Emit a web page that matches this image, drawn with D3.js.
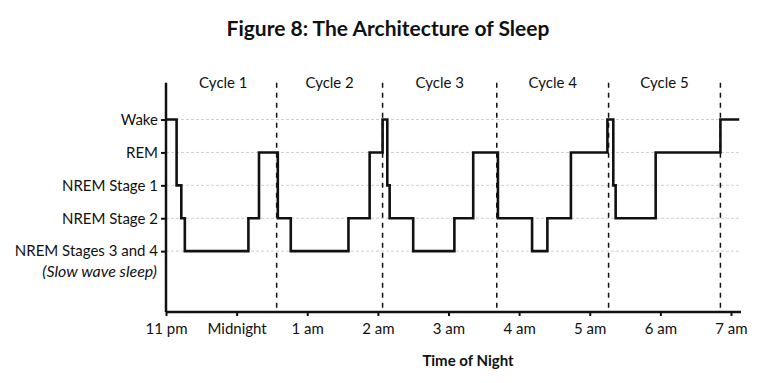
<!DOCTYPE html>
<html><head><meta charset="utf-8">
<script src="https://cdn.jsdelivr.net/npm/d3@7/dist/d3.min.js"></script>
<style>body{margin:0;background:#fff}svg{display:block}</style>
</head><body>
<svg id="chart" width="767" height="383"></svg>
<script>
// ---- data ----
const stageLabels = ["NREM Stages 3 and 4", "NREM Stage 2", "NREM Stage 1", "REM", "Wake"];
const stageValues = [0, 1, 2, 3, 4];
const stageNote = "(Slow wave sleep)";
const timeTicks = [0, 60, 120, 180, 240, 300, 360, 420, 480]; // minutes after 11 pm
const timeTickLabels = ["11 pm", "Midnight", "1 am", "2 am", "3 am", "4 am", "5 am", "6 am", "7 am"];
const cycleNames = ["Cycle 1", "Cycle 2", "Cycle 3", "Cycle 4", "Cycle 5"];
const cycleEnds = [94, 184, 281, 376, 471];
const stepTimes  = [0, 9, 13, 16, 70, 79, 95, 106, 155, 173, 184, 188, 190, 210, 245, 261, 282, 311, 324, 344, 375, 380, 382, 416, 471, 487];
const stepStages = [4, 2, 1, 0, 1, 3, 1, 0, 1, 3, 4, 2, 1, 0, 1, 3, 1, 0, 1, 3, 4, 2, 1, 3, 4, 4];
const titleText = "Figure 8: The Architecture of Sleep";
const xTitle = "Time of Night";

// ---- layout ----
const FONT = "Lato, 'Open Sans', sans-serif";
const svg = d3.select("#chart");
const x = d3.scaleLinear().domain([0, 480]).range([166, 731]);
const y = d3.scaleLinear().domain([-1.85, 5.12]).range([312, 82.7]);
const xEnd = 488.5;

svg.append("text")
  .attr("x", 388).attr("y", 36)
  .attr("text-anchor", "middle")
  .style("font-family", FONT).style("font-weight", 700).style("font-size", "21px")
  .attr("fill", "#111")
  .text(titleText);

// gridlines
svg.append("g").selectAll("line").data(stageValues).join("line")
  .attr("x1", x(0)).attr("x2", x(xEnd))
  .attr("y1", d => y(d)).attr("y2", d => y(d))
  .attr("stroke", "#cfcfcf").attr("stroke-width", 1).attr("stroke-dasharray", "3,2");

// cycle boundaries
svg.append("g").selectAll("line").data(cycleEnds).join("line")
  .attr("x1", d => x(d)).attr("x2", d => x(d))
  .attr("y1", y(5.12)).attr("y2", y(-1.85))
  .attr("stroke", "#111").attr("stroke-width", 1.5).attr("stroke-dasharray", "5,5");

// cycle labels
const cycleStarts = [0].concat(cycleEnds.slice(0, -1));
svg.append("g").selectAll("text").data(cycleNames).join("text")
  .attr("x", (d, i) => (x(cycleStarts[i]) + x(cycleEnds[i])) / 2 + (i === 0 ? 2 : 0))
  .attr("y", 88)
  .attr("text-anchor", "middle")
  .style("font-family", FONT).style("font-size", "15px")
  .attr("fill", "#111")
  .text(d => d);

// hypnogram
const steps = stepTimes.map((t, i) => [t, stepStages[i]]);
svg.append("path")
  .datum(steps)
  .attr("fill", "none").attr("stroke", "#111").attr("stroke-width", 2.6)
  .attr("stroke-linejoin", "miter")
  .attr("d", d3.line().x(d => x(d[0])).y(d => y(d[1])).curve(d3.curveStepAfter));

// x axis
const xAxis = svg.append("g").attr("transform", `translate(0,${y(-1.85)})`)
  .call(d3.axisBottom(x).tickValues(timeTicks).tickFormat((d, i) => timeTickLabels[i])
    .tickSize(4).tickPadding(7).tickSizeOuter(0));
xAxis.select(".domain").attr("d", `M${x(0)},0H${x(xEnd)}`).attr("stroke", "#111").attr("stroke-width", 2.5);
xAxis.selectAll(".tick line").attr("stroke", "#111").attr("stroke-width", 2);
xAxis.selectAll(".tick text").style("font-family", FONT).style("font-size", "15px").attr("fill", "#111");

// y axis
const yAxis = svg.append("g").attr("transform", `translate(${x(0)},0)`)
  .call(d3.axisLeft(y).tickValues(stageValues).tickFormat((d, i) => stageLabels[i])
    .tickSize(5).tickPadding(3).tickSizeOuter(0));
yAxis.select(".domain").attr("d", `M0,${y(5.12)}V${y(-1.85)}`).attr("stroke", "#111").attr("stroke-width", 2.5);
yAxis.selectAll(".tick line").attr("stroke", "#111").attr("stroke-width", 2);
yAxis.selectAll(".tick text").style("font-family", FONT).style("font-size", "15px").attr("fill", "#111");
// two-line label for the deepest stage
yAxis.selectAll(".tick text").filter(d => d === 0).each(function(d, i) {
  const t = d3.select(this);
  const tx = t.attr("x");
  t.text(null);
  t.append("tspan").attr("x", tx).text(stageLabels[0]);
  t.append("tspan").attr("x", +tx - 1).attr("dy", "1.3em")
    .style("font-style", "italic").style("font-size", "16px")
    .text(stageNote);
});

// x title
svg.append("text")
  .attr("x", 468).attr("y", 366)
  .attr("text-anchor", "middle")
  .style("font-family", FONT).style("font-weight", 700).style("font-size", "15px")
  .attr("fill", "#111")
  .text(xTitle);
</script>
</body></html>
